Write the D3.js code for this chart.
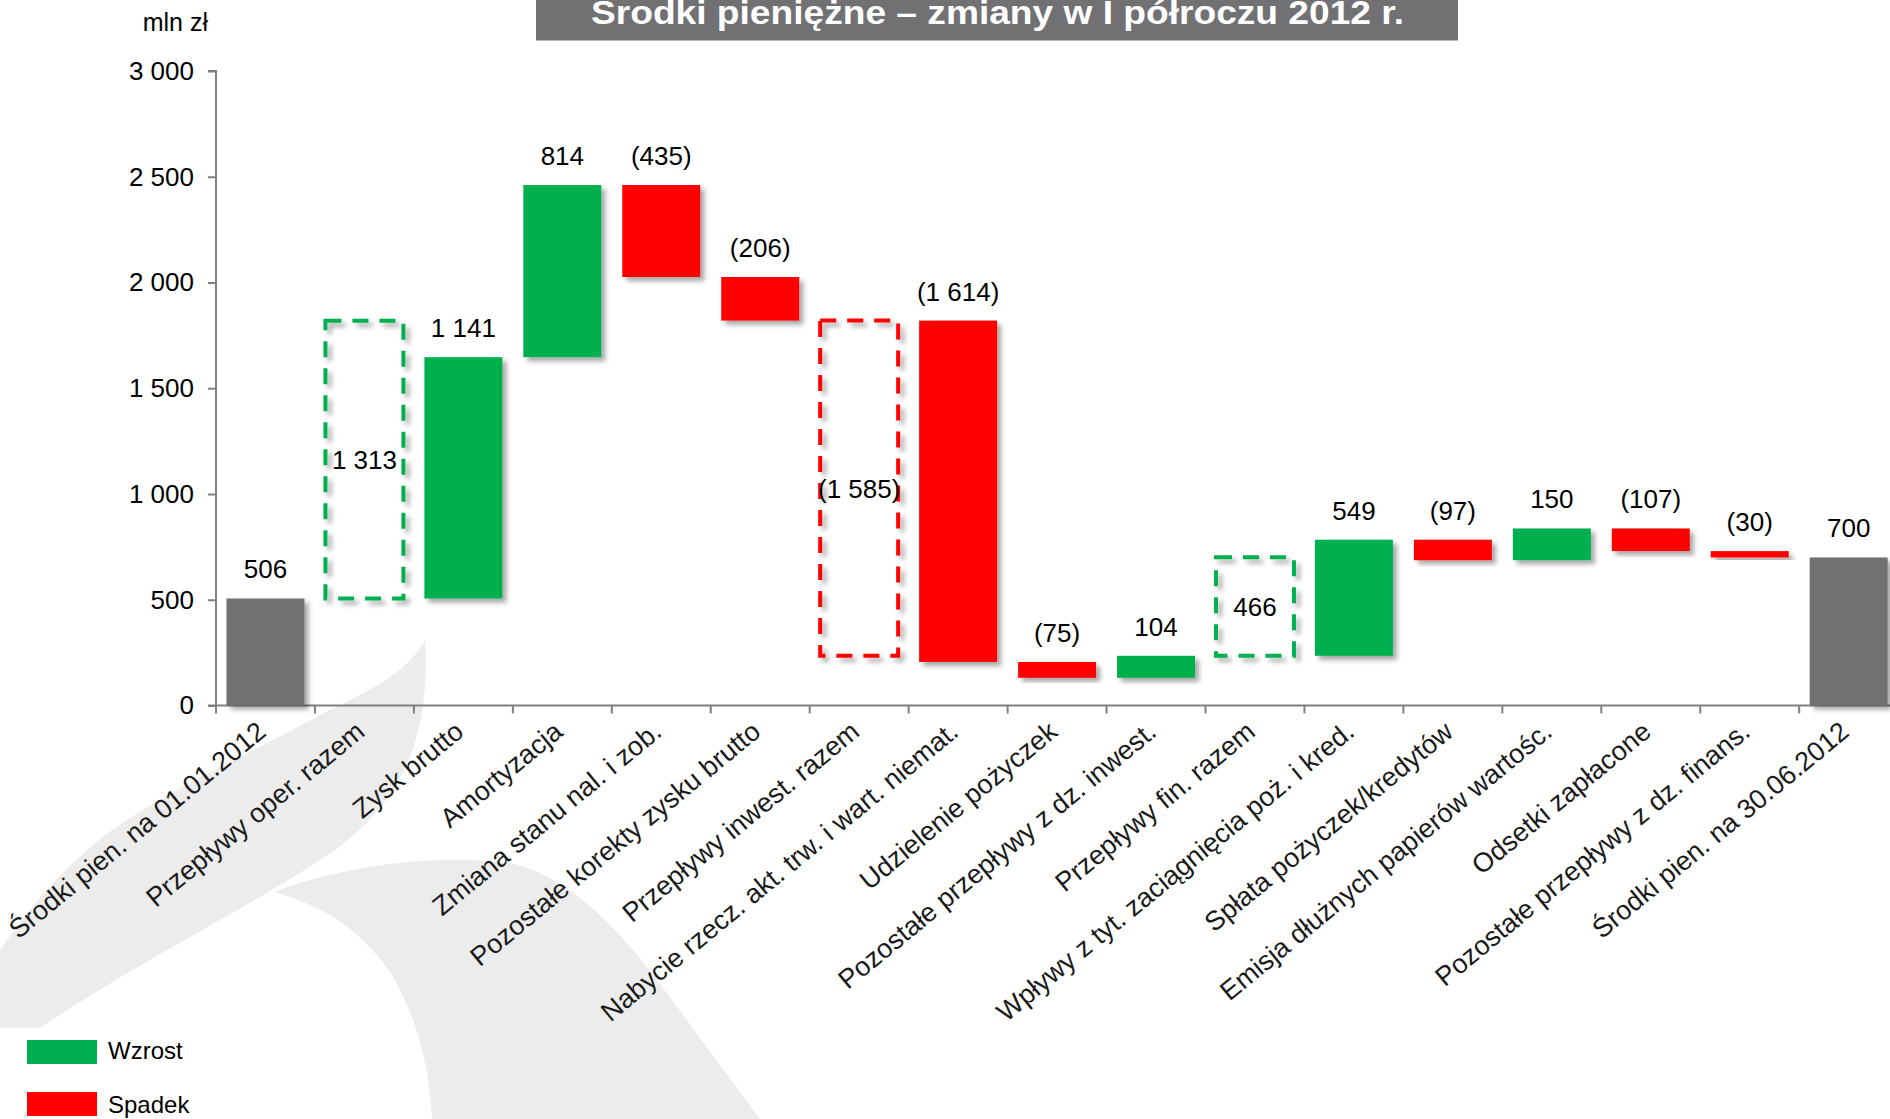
<!DOCTYPE html>
<html>
<head>
<meta charset="utf-8">
<script src="https://cdn.jsdelivr.net/npm/d3@7"></script>
<style>
  html, body { margin: 0; padding: 0; background: #fff; overflow: hidden; }
  svg { display: block; font-family: "Liberation Sans", Arial, sans-serif; }
</style>
</head>
<body>
<svg id="chart" width="1890" height="1119"></svg>
<script>
// ---------- data ----------
const categories = [
  "Środki pien. na 01.01.2012",
  "Przepływy oper. razem",
  "Zysk brutto",
  "Amortyzacja",
  "Zmiana stanu nal. i zob.",
  "Pozostałe korekty zysku brutto",
  "Przepływy inwest. razem",
  "Nabycie rzecz.  akt. trw. i wart. niemat.",
  "Udzielenie pożyczek",
  "Pozostałe przepływy z dz. inwest.",
  "Przepływy fin. razem",
  "Wpływy z tyt. zaciągnięcia poż. i kred.",
  "Spłata pożyczek/kredytów",
  "Emisja dłużnych papierów wartośc.",
  "Odsetki zapłacone",
  "Pozostałe przepływy z dz. finans.",
  "Środki pien. na 30.06.2012"
];
const values = [506, 1313, 1141, 814, -435, -206, -1585, -1614, -75, 104, 466, 549, -97, 150, -107, -30, 700];
// total = balance bar, subtotal = dashed section box, delta = change bar
const kinds = ["total", "subtotal", "delta", "delta", "delta", "delta", "subtotal", "delta", "delta", "delta",
               "subtotal", "delta", "delta", "delta", "delta", "delta", "total"];
const yTicks = [0, 500, 1000, 1500, 2000, 2500, 3000];
const legendItems = ["Wzrost", "Spadek"];
const titleText = "Środki pieniężne – zmiany w I półroczu 2012 r.";
const unitText = "mln zł";

// ---------- styles ----------
const GREEN = "#00B050", RED = "#FF0000", GRAY = "#717073", AXIS = "#808080";

const svg = d3.select("#chart");
const W = 1890, H = 1119;
const margin = { left: 216 };

const defs = svg.append("defs");
const f = defs.append("filter").attr("id", "shadow").attr("x", "-20%").attr("y", "-20%").attr("width", "150%").attr("height", "150%");
f.append("feDropShadow").attr("dx", 4).attr("dy", 4).attr("stdDeviation", 2.5)
  .attr("flood-color", "#000").attr("flood-opacity", 0.35);

// ---------- decorative watermark ----------
const wm = svg.append("g").attr("fill", "#ececec");
wm.append("path").attr("d",
  "M425,640 C430,725 410,795 335,850 C255,905 140,960 40,1028 L0,1028 L0,950 " +
  "C25,915 55,875 105,835 C175,785 255,752 325,712 C378,688 410,668 425,640 Z");
wm.append("path").attr("d",
  "M274,892 C340,866 440,852 515,864 C575,880 625,935 672,1000 C705,1045 735,1085 760,1119 " +
  "L432,1119 C430,1070 418,1020 392,975 C362,930 322,905 274,892 Z");

// ---------- scales ----------
const x = d3.scaleBand().domain(categories).range([margin.left, margin.left + 17 * 98.95])
  .paddingInner(0.212).paddingOuter(0.106);
const y = d3.scaleLinear().domain([0, 3000]).range([705.5, 71]);

const fmtLocale = d3.formatLocale({ thousands: "\u00a0", grouping: [3], decimal: ",", currency: ["", ""] });
const fmt = fmtLocale.format(",d");
const fmtVal = v => v < 0 ? "(" + fmt(-v) + ")" : fmt(v);

// ---------- waterfall geometry ----------
let level = 0;
const items = categories.map((c, i) => {
  const v = values[i], k = kinds[i];
  let start, end;
  if (k === "total") { start = 0; end = v; level = v; }
  else if (k === "subtotal") { start = level; end = level + v; }
  else { start = level; end = level + v; level = end; }
  return { c, v, k, start, end };
});

// ---------- axes ----------
const yAxisG = svg.append("g").attr("transform", `translate(${margin.left},0)`)
  .call(d3.axisLeft(y).tickValues(yTicks).tickSize(8).tickPadding(14)
    .tickFormat(d => fmt(d)));
yAxisG.select(".domain").attr("stroke", AXIS).attr("stroke-width", 2)
  .attr("d", `M-8,${y(3000)}H0V${y(0)}`);
yAxisG.selectAll(".tick line").attr("stroke", AXIS).attr("stroke-width", 2);
yAxisG.selectAll(".tick text").attr("font-size", 26).attr("fill", "#000")
  .attr("font-family", "'Liberation Sans', Arial, sans-serif");

// x axis line + ticks at band boundaries
const xAxisG = svg.append("g");
xAxisG.append("line").attr("x1", margin.left - 8).attr("x2", W + 10)
  .attr("y1", y(0)).attr("y2", y(0)).attr("stroke", AXIS).attr("stroke-width", 2);
d3.range(categories.length).forEach(i => {
  const bx = x.range()[0] + i * x.step();
  xAxisG.append("line").attr("x1", bx).attr("x2", bx).attr("y1", y(0)).attr("y2", y(0) + 8)
    .attr("stroke", AXIS).attr("stroke-width", 2);
});

// category labels
svg.append("g").selectAll("text").data(categories).join("text")
  .attr("transform", d => `translate(${x(d) + x.bandwidth() / 2 + 2},${y(0) + 29}) rotate(-39.5)`)
  .attr("text-anchor", "end").attr("font-size", 27).attr("fill", "#1a1a1a")
  .text(d => d);

// ---------- bars ----------
const bw = x.bandwidth();
const bars = svg.append("g");
items.forEach(d => {
  const top = y(Math.max(d.start, d.end)), bot = y(Math.min(d.start, d.end));
  if (d.k === "subtotal") {
    bars.append("rect").attr("x", x(d.c)).attr("y", top).attr("width", bw).attr("height", bot - top)
      .attr("fill", "none").attr("stroke", d.v >= 0 ? GREEN : RED).attr("stroke-width", 4)
      .attr("stroke-dasharray", "16,11").attr("filter", "url(#shadow)");
  } else {
    const col = d.k === "total" ? GRAY : (d.v >= 0 ? GREEN : RED);
    bars.append("rect").attr("x", x(d.c)).attr("y", top).attr("width", bw).attr("height", bot - top)
      .attr("fill", col).attr("filter", "url(#shadow)");
  }
});

// ---------- value labels ----------
const labels = svg.append("g").attr("font-size", 26).attr("fill", "#000").attr("text-anchor", "middle");
items.forEach(d => {
  const cx = x(d.c) + bw / 2;
  if (d.k === "subtotal") {
    labels.append("text").attr("x", cx).attr("y", (y(d.start) + y(d.end)) / 2).attr("dy", "0.36em")
      .text(fmtVal(d.v));
  } else {
    labels.append("text").attr("x", cx).attr("y", y(Math.max(d.start, d.end)) - 20)
      .text(fmtVal(d.v));
  }
});

// ---------- unit ----------
svg.append("text").attr("x", 208).attr("y", 31).attr("text-anchor", "end")
  .attr("font-size", 25).attr("fill", "#000").text(unitText);

// ---------- title ----------
svg.append("rect").attr("x", 536).attr("y", -10).attr("width", 922).attr("height", 50.5).attr("fill", "#717174");
svg.append("text").attr("x", 591).attr("y", 24).attr("font-size", 33).attr("font-weight", "bold")
  .attr("fill", "#fff").attr("textLength", 813).attr("lengthAdjust", "spacingAndGlyphs").text(titleText);

// ---------- legend ----------
const leg = svg.append("g");
[GREEN, RED].forEach((c, i) => {
  leg.append("rect").attr("x", 27).attr("y", 1040 + i * 52).attr("width", 70).attr("height", 24).attr("fill", c);
  leg.append("text").attr("x", 108).attr("y", 1059 + i * 54).attr("font-size", 24).attr("fill", "#000")
    .text(legendItems[i]);
});
</script>
</body>
</html>
